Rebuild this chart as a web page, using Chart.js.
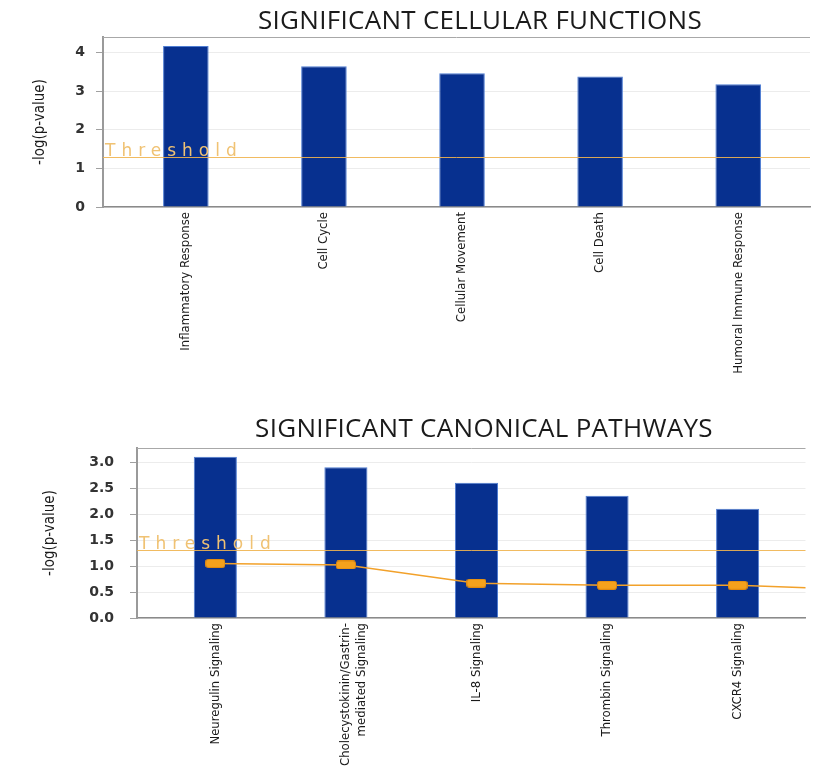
<!DOCTYPE html>
<html>
<head>
<meta charset="UTF-8">
<title>Significant functions and pathways</title>
<style type="text/css">
body { margin: 0; background: #fff; }
.box { position: absolute; left: 0; width: 817px; }
.ttl { position: absolute; left: 180px; width: 600px; text-align: center;
	font-family: 'Open Sans', sans-serif; font-size: 26px; letter-spacing: 0.3px; color: #1a1a1a; white-space: nowrap; }
</style>
</head>
<body>
	<div class="box" style="top:0;height:400px;"><canvas id="funcChart"></canvas></div>
	<div class="box" style="top:400px;height:366px;"><canvas id="pathChart"></canvas></div>
	<div class="ttl" style="top:1px;">SIGNIFICANT CELLULAR FUNCTIONS</div>
	<div class="ttl" style="top:409px;left:184px;">SIGNIFICANT CANONICAL PATHWAYS</div>
</body>
<script src="https://cdn.jsdelivr.net/npm/chart.js@4"></script>
<script type="text/javascript">
	// cellular functions
	const funcLabels = ['Inflammatory Response', 'Cell Cycle', 'Cellular Movement', 'Cell Death', 'Humoral Immune Response'];
	const funcValues = [4.17, 3.64, 3.46, 3.38, 3.18];
	const funcYTicks = [0, 1, 2, 3, 4];

	// canonical pathways
	const pathLabels = ['Neuregulin Signaling', ['Cholecystokinin/Gastrin-', 'mediated Signaling'], 'IL-8 Signaling', 'Thrombin Signaling', 'CXCR4 Signaling'];
	const pathValues = [3.10, 2.90, 2.60, 2.35, 2.10];
	// ratio line, the last point belongs to the next pathway (off the right edge)
	const pathRatio = [1.05, 1.02, 0.67, 0.63, 0.63, 0.54];
	const pathYTicks = [0, 0.5, 1.0, 1.5, 2.0, 2.5, 3.0];

	const threshold = 1.3;

	const labelFont = "'Liberation Sans Narrow', 'DejaVu Sans Condensed', sans-serif";

	// orange box marker for the ratio line
	const marker = document.createElement('canvas');
	marker.width = 20; marker.height = 9;
	(function(){
		let m = marker.getContext('2d');
		m.fillStyle = '#f5a11c';
		m.strokeStyle = '#e08a10';
		m.lineWidth = 1;
		m.beginPath();
		m.roundRect(0.5, 0.5, 19, 8, 2);
		m.fill();
		m.stroke();
	})();

	const thresholdLine = {
		id: 'thresholdLine',
		afterDatasetsDraw(chart) {
			let ctx = chart.ctx;
			let a = chart.chartArea;
			let y = chart.scales.y.getPixelForValue(threshold);
			ctx.save();
			// top frame line
			ctx.strokeStyle = '#a8a8a8';
			ctx.lineWidth = 1;
			ctx.beginPath();
			ctx.moveTo(a.left, a.top + 0.5);
			ctx.lineTo(a.right, a.top + 0.5);
			ctx.stroke();
			// threshold
			ctx.strokeStyle = 'rgba(240, 180, 80, 0.9)';
			ctx.lineWidth = 1;
			ctx.beginPath();
			ctx.moveTo(a.left, Math.round(y) + 0.5);
			ctx.lineTo(a.right, Math.round(y) + 0.5);
			ctx.stroke();
			ctx.fillStyle = '#f0c273';
			ctx.font = "17px 'DejaVu Sans'";
			ctx.letterSpacing = '6px';
			ctx.textBaseline = 'bottom';
			ctx.fillText('Threshold', a.left + 2, y + 3);
			ctx.restore();
		}
	};

	function makeChart(id, labels, values, ratio, yTicks, yMax, box, fmt) {
		let datasets = [{
			type: 'bar',
			data: values.map((v, i) => ({x: i, y: v})),
			backgroundColor: '#07308f',
			borderColor: '#4f7dd2',
			borderWidth: 1,
			barPercentage: 0.33,
			categoryPercentage: 1,
			order: 2
		}];
		if (ratio) {
			datasets.push({
				type: 'line',
				data: ratio.map((v, i) => ({x: i, y: v})),
				borderColor: '#f2a12a',
				borderWidth: 1.5,
				pointStyle: marker,
				pointRadius: 10,
				order: 1
			});
		}
		return new Chart(document.getElementById(id), {
			type: 'bar',
			data: {datasets: datasets},
			plugins: [thresholdLine],
			options: {
				responsive: true,
				maintainAspectRatio: false,
				animation: false,
				layout: {padding: {top: box.top, right: box.right, left: 0, bottom: 0}},
				plugins: {legend: {display: false}, tooltip: {enabled: false}},
				scales: {
					x: {
						type: 'linear',
						min: -0.6,
						max: 4.52,
						offset: false,
						grid: {display: false, drawTicks: false},
						border: {color: '#8a8a8a', width: 1.5},
						afterBuildTicks: s => { s.ticks = labels.map((l, i) => ({value: i})); },
						ticks: {
							minRotation: 90, maxRotation: 90, autoSkip: false, padding: 5,
							color: '#1a1a1a',
							font: {family: labelFont, size: 13},
							callback: v => labels[v]
						},
						afterFit: s => { s.height = box.xHeight; }
					},
					y: {
						min: 0,
						max: yMax,
						afterBuildTicks: s => { s.ticks = yTicks.map(v => ({value: v})); },
						grid: {color: '#ececec', tickLength: 7, tickColor: '#a0a0a0'},
						border: {color: '#9a9a9a', width: 2},
						ticks: {
							padding: box.tickPad,
							color: '#333',
							font: {family: 'DejaVu Sans', weight: 'bold', size: 14},
							callback: fmt
						},
						title: {
							display: true, text: '-log(p-value)', color: '#1a1a1a',
							font: {family: labelFont, size: 15},
							padding: box.titlePad
						},
						afterFit: s => { s.width = box.left; }
					}
				}
			}
		});
	}

	makeChart('funcChart', funcLabels, funcValues, null, funcYTicks, 4.4,
		{top: 37, right: 7, left: 103, xHeight: 193, tickPad: 11, titlePad: 31},
		v => String(v));

	makeChart('pathChart', pathLabels, pathValues, pathRatio, pathYTicks, 3.27,
		{top: 48, right: 10, left: 137, xHeight: 148, tickPad: 16, titlePad: 41},
		v => v.toFixed(1));
</script>
</html>
